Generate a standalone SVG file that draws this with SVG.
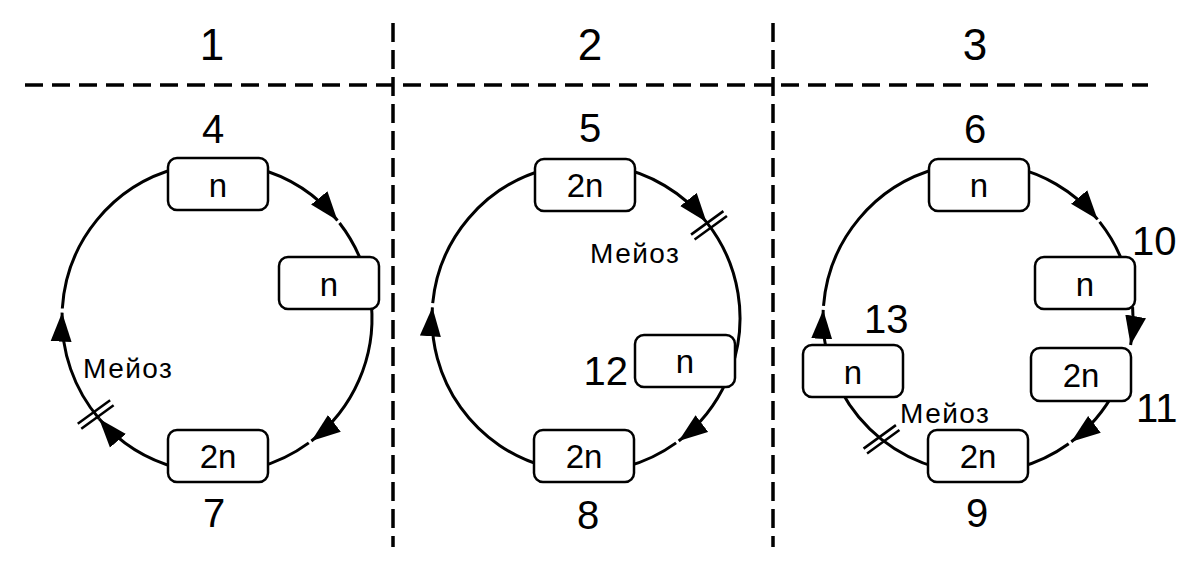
<svg xmlns="http://www.w3.org/2000/svg" width="1200" height="582" viewBox="0 0 1200 582">
<defs>
<style>
.dash{stroke:#000;stroke-width:3.5;fill:none}
.arc{stroke:#000;stroke-width:3;fill:none}
.arr{marker-end:url(#ah)}
.box{fill:#fff;stroke:#000;stroke-width:2.5}
.bt{font-family:"Liberation Sans",Arial,sans-serif;font-size:33px;text-anchor:middle;fill:#000}
.num{font-family:"Liberation Sans",Arial,sans-serif;font-size:40px;fill:#000}
.top{font-family:"Liberation Sans",Arial,sans-serif;font-size:44px;text-anchor:middle;fill:#000}
.mz{font-family:"Liberation Sans",Arial,sans-serif;font-size:28px;letter-spacing:1.5px;fill:#000}
.bar{stroke:#000;stroke-width:2.5}
</style>
<marker id="ah" markerUnits="userSpaceOnUse" viewBox="0 0 30 22" markerWidth="30" markerHeight="22" refX="29" refY="11" orient="auto">
<path d="M0,0.5 L29,11 L0,21.5 z" fill="#000"/>
</marker>
</defs>
<rect width="1200" height="582" fill="#fff"/>
<g id="grid">
<line class="dash" x1="25" y1="85" x2="1148" y2="85" stroke-dasharray="18 9"/>
<line class="dash" x1="393" y1="23" x2="393" y2="547" stroke-dasharray="19 8"/>
<line class="dash" x1="773" y1="23" x2="773" y2="547" stroke-dasharray="19 8"/>
</g>
<g id="headers">
<text class="top" x="212" y="60">1</text>
<text class="top" x="590" y="60">2</text>
<text class="top" x="975" y="60">3</text>
</g>
<g id="connectors">
<!-- circle 1 -->
<path class="arc arr" d="M257.1,168.3 A155,155 0 0 1 337.5,220.5"/>
<path class="arc" d="M339.5,223 A155,155 0 0 1 362.7,265"/>
<path class="arc arr" d="M371.4,304.5 A155,155 0 0 1 311.4,441"/>
<path class="arc" d="M308.8,442.9 A155,155 0 0 1 257.1,467.7"/>
<path class="arc arr" d="M176.9,467.7 A155,155 0 0 1 99.1,418.7"/>
<path class="arc arr" d="M99.1,418.7 A155,155 0 0 1 62.1,312.6"/>
<path class="arc" d="M62.3,308.5 A155,155 0 0 1 176.9,168.3"/>
<g class="bar" transform="translate(95.7,414.5) rotate(-36)"><line x1="-20" y1="-3" x2="20" y2="-3"/><line x1="-20" y1="3" x2="20" y2="3"/></g>
<!-- circle 2 -->
<path class="arc arr" d="M612.7,166.3 A154,154 0 0 1 706.5,222.1"/>
<path class="arc" d="M706.5,222.1 A154,154 0 0 1 730.7,370.7"/>
<path class="arc arr" d="M726.7,380.6 A154,154 0 0 1 678.7,441"/>
<path class="arc" d="M676.1,442.9 A154,154 0 0 1 625.9,466.8"/>
<path class="arc arr" d="M546.1,466.8 A154,154 0 0 1 432.4,307.3"/>
<path class="arc" d="M432.7,303.2 A154,154 0 0 1 546.1,169.2"/>
<g class="bar" transform="translate(709,225.3) rotate(-36)"><line x1="-20" y1="-3" x2="20" y2="-3"/><line x1="-20" y1="3" x2="20" y2="3"/></g>
<!-- circle 3 -->
<path class="arc arr" d="M1004.9,165.4 A155,155 0 0 1 1097.6,219.4"/>
<path class="arc" d="M1099.6,221.9 A155,155 0 0 1 1123.7,265"/>
<path class="arc arr" d="M1132.6,307.2 A155,155 0 0 1 1130.6,344.9"/>
<path class="arc arr" d="M1114.9,390.8 A155,155 0 0 1 1071.3,441.8"/>
<path class="arc" d="M1068.7,443.7 A155,155 0 0 1 1018.1,467.7"/>
<path class="arc" d="M937.9,467.7 A155,155 0 0 1 841.1,390.8"/>
<path class="arc arr" d="M826.4,350.2 A155,155 0 0 1 823.2,309.9"/>
<path class="arc" d="M823.5,305.8 A155,155 0 0 1 937.9,168.3"/>
<g class="bar" transform="translate(881.5,439.3) rotate(-36)"><line x1="-20" y1="-3" x2="20" y2="-3"/><line x1="-20" y1="3" x2="20" y2="3"/></g>
</g>
<g id="c1-top"><rect class="box" x="168" y="158" width="100" height="52" rx="9"/><text class="bt" x="218" y="197">n</text></g>
<g id="c1-right"><rect class="box" x="279" y="257" width="100" height="52" rx="9"/><text class="bt" x="329" y="296">n</text></g>
<g id="c1-bottom"><rect class="box" x="168" y="430" width="100" height="52" rx="9"/><text class="bt" x="218" y="468">2n</text></g>
<g id="c2-top"><rect class="box" x="535" y="159" width="100" height="52" rx="9"/><text class="bt" x="585" y="197">2n</text></g>
<g id="c2-right"><rect class="box" x="635" y="335" width="100" height="52" rx="9"/><text class="bt" x="685" y="373">n</text></g>
<g id="c2-bottom"><rect class="box" x="534" y="430" width="100" height="52" rx="9"/><text class="bt" x="584" y="468">2n</text></g>
<g id="c3-top"><rect class="box" x="929" y="159" width="100" height="52" rx="9"/><text class="bt" x="979" y="197">n</text></g>
<g id="c3-10"><rect class="box" x="1035" y="257" width="100" height="52" rx="9"/><text class="bt" x="1085" y="296">n</text></g>
<g id="c3-11"><rect class="box" x="1031" y="348" width="100" height="53" rx="9"/><text class="bt" x="1081" y="387">2n</text></g>
<g id="c3-13"><rect class="box" x="803" y="345" width="100" height="52" rx="9"/><text class="bt" x="853" y="384">n</text></g>
<g id="c3-bottom"><rect class="box" x="928" y="430" width="100" height="52" rx="9"/><text class="bt" x="978" y="468">2n</text></g>
<g id="labels">
<text class="num" x="213" y="143" text-anchor="middle">4</text>
<text class="num" x="590" y="142" text-anchor="middle">5</text>
<text class="num" x="975" y="143" text-anchor="middle">6</text>
<text class="num" x="214" y="527" text-anchor="middle">7</text>
<text class="num" x="588" y="529" text-anchor="middle">8</text>
<text class="num" x="977" y="527" text-anchor="middle">9</text>
<text class="num" x="1132" y="255">10</text>
<text class="num" x="1136" y="422">11</text>
<text class="num" x="628" y="385" text-anchor="end">12</text>
<text class="num" x="864" y="333">13</text>
<text class="mz" x="83" y="378">Мейоз</text>
<text class="mz" x="590" y="263">Мейоз</text>
<text class="mz" x="900" y="423">Мейоз</text>
</g>
</svg>
